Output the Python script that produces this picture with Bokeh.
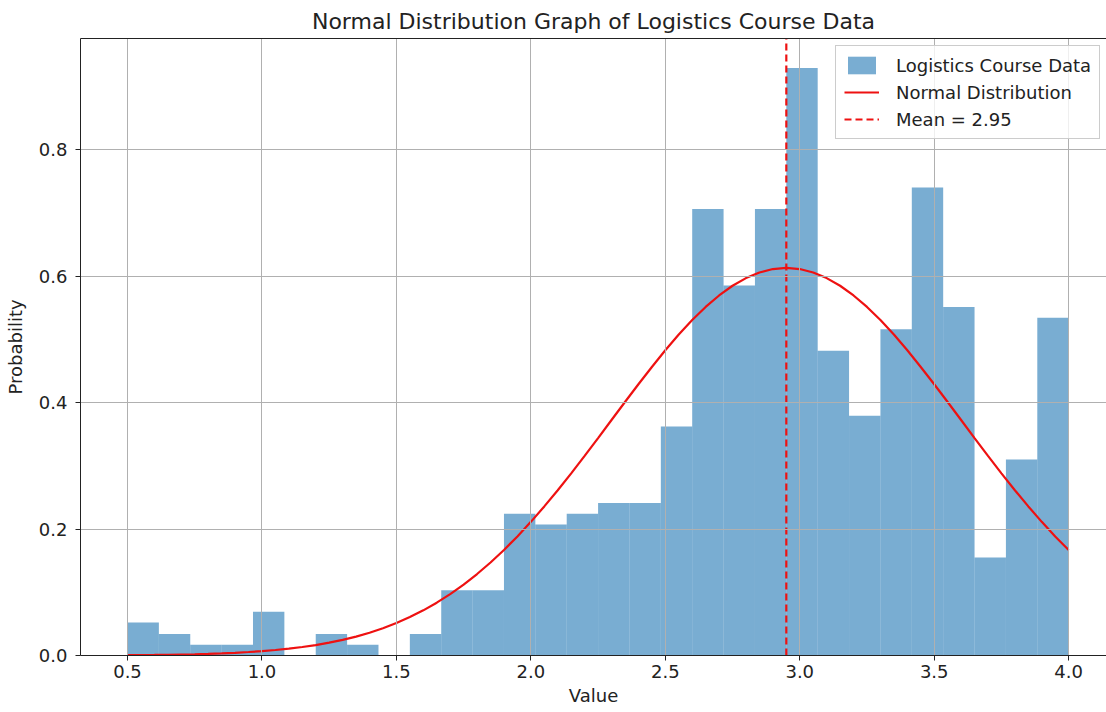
from bokeh.plotting import figure
from bokeh.models import (Legend, LegendItem, FixedTicker, Range1d,
                          CustomJSTickFormatter, LinearAxis)
from bokeh.embed import file_html
from bokeh.resources import INLINE
import numpy as np

# Histogram data (density), 30 bins from 0.5 to 4.0
bin_start = 0.5
bin_end = 4.0
n_bins = 30
density = [0.052, 0.034, 0.017, 0.017, 0.069, 0.0, 0.034, 0.017, 0.0, 0.034,
           0.103, 0.103, 0.224, 0.207, 0.224, 0.241, 0.241, 0.362, 0.706, 0.585,
           0.706, 0.929, 0.482, 0.379, 0.516, 0.740, 0.551, 0.155, 0.310, 0.534]

# Normal distribution curve
curve_x = [0.5, 0.55, 0.6, 0.65, 0.7, 0.75, 0.8, 0.85, 0.9, 0.95, 1.0, 1.05, 1.1,
           1.15, 1.2, 1.25, 1.3, 1.35, 1.4, 1.45, 1.5, 1.55, 1.6, 1.65, 1.7, 1.75,
           1.8, 1.85, 1.9, 1.95, 2.0, 2.05, 2.1, 2.15, 2.2, 2.25, 2.3, 2.35, 2.4,
           2.45, 2.5, 2.55, 2.6, 2.65, 2.7, 2.75, 2.8, 2.85, 2.9, 2.95, 3.0, 3.05,
           3.1, 3.15, 3.2, 3.25, 3.3, 3.35, 3.4, 3.45, 3.5, 3.55, 3.6, 3.65, 3.7,
           3.75, 3.8, 3.85, 3.9, 3.95, 4.0]
curve_y = [0.0005, 0.0007, 0.0009, 0.0012, 0.0016, 0.0020, 0.0026, 0.0034, 0.0043,
           0.0055, 0.0069, 0.0087, 0.0108, 0.0134, 0.0165, 0.0203, 0.0247, 0.0299,
           0.0360, 0.0431, 0.0513, 0.0607, 0.0714, 0.0835, 0.0970, 0.1121, 0.1288,
           0.1470, 0.1669, 0.1883, 0.2113, 0.2357, 0.2613, 0.2880, 0.3156, 0.3438,
           0.3723, 0.4008, 0.4288, 0.4562, 0.4826, 0.5074, 0.5303, 0.5511, 0.5692,
           0.5846, 0.5967, 0.6056, 0.6110, 0.6128, 0.6110, 0.6056, 0.5967, 0.5846,
           0.5692, 0.5511, 0.5303, 0.5074, 0.4826, 0.4562, 0.4288, 0.4008, 0.3723,
           0.3438, 0.3156, 0.2880, 0.2613, 0.2357, 0.2113, 0.1883, 0.1669]
mean_value = 2.95

x_ticks = [0.5, 1.0, 1.5, 2.0, 2.5, 3.0, 3.5, 4.0]
y_ticks = [0.0, 0.2, 0.4, 0.6, 0.8]

edges = np.linspace(bin_start, bin_end, n_bins + 1)
lefts = edges[:-1]
rights = edges[1:]

FONT = "DejaVu Sans"
RED = "#ee1111"
INK = "#222222"
Y_TOP = 0.9755

p = figure(width=1106, height=712, output_backend="svg", toolbar_location=None,
           x_range=Range1d(0.3252, 4.1407), y_range=Range1d(0, Y_TOP),
           min_border_left=80, min_border_right=0, min_border_top=38, min_border_bottom=57)

p.title.text = "Normal Distribution Graph of Logistics Course Data"
p.title.align = "center"
p.title.text_font = FONT
p.title.text_font_size = "22px"
p.title.text_font_style = "normal"
p.title.text_color = INK
p.title.offset = 8

bars = p.quad(left=lefts, right=rights, bottom=0, top=density,
              fill_color="#1f77b4", fill_alpha=0.6, line_color=None)
curve = p.line(curve_x, curve_y, line_color=RED, line_width=2.2)
mean_line = p.line([mean_value, mean_value], [0, Y_TOP], line_color=RED,
                   line_width=2.2, line_dash="7 4")

p.xaxis.ticker = FixedTicker(ticks=x_ticks)
p.yaxis.ticker = FixedTicker(ticks=y_ticks)
p.xaxis.formatter = CustomJSTickFormatter(code="return tick.toFixed(1);")
p.yaxis.formatter = CustomJSTickFormatter(code="return tick.toFixed(1);")
p.xaxis.axis_label = "Value"
p.yaxis.axis_label = "Probability"
for ax in (p.xaxis, p.yaxis):
    ax.axis_label_text_font = FONT
    ax.axis_label_text_font_size = "18px"
    ax.axis_label_text_font_style = "normal"
    ax.axis_label_text_color = INK
    ax.major_label_text_font = FONT
    ax.major_label_text_font_size = "18px"
    ax.major_label_text_color = INK
    ax.minor_tick_line_color = None
    ax.major_tick_out = 5
    ax.major_tick_in = 0
    ax.axis_line_color = INK
    ax.major_tick_line_color = INK
p.xaxis.major_label_standoff = 4
p.yaxis.major_label_standoff = 8
p.xaxis.axis_label_standoff = 4
p.yaxis.axis_label_standoff = 10

# top spine
top_axis = LinearAxis(ticker=FixedTicker(ticks=[]), major_label_text_font_size="0px",
                      major_tick_line_color=None, minor_tick_line_color=None,
                      axis_line_color=INK)
p.add_layout(top_axis, "above")

p.xgrid.ticker = FixedTicker(ticks=x_ticks)
p.ygrid.ticker = FixedTicker(ticks=y_ticks)
p.grid.grid_line_color = "#b0b0b0"
p.grid.grid_line_width = 1
p.grid.level = "glyph"
p.outline_line_color = None
p.background_fill_color = "white"

legend = Legend(items=[
    LegendItem(label="Logistics Course Data", renderers=[bars]),
    LegendItem(label="Normal Distribution", renderers=[curve]),
    LegendItem(label="Mean = 2.95", renderers=[mean_line]),
], location=(755, 516))
legend.label_text_font = FONT
legend.label_text_font_size = "18px"
legend.label_text_color = INK
legend.border_line_color = "#cccccc"
legend.border_line_alpha = 1
legend.background_fill_alpha = 0.8
legend.glyph_width = 35
legend.glyph_height = 22
legend.spacing = 5
legend.padding = 8
legend.margin = 0
legend.label_standoff = 17
p.add_layout(legend)

open("out.html", "w").write(file_html(p, INLINE))
